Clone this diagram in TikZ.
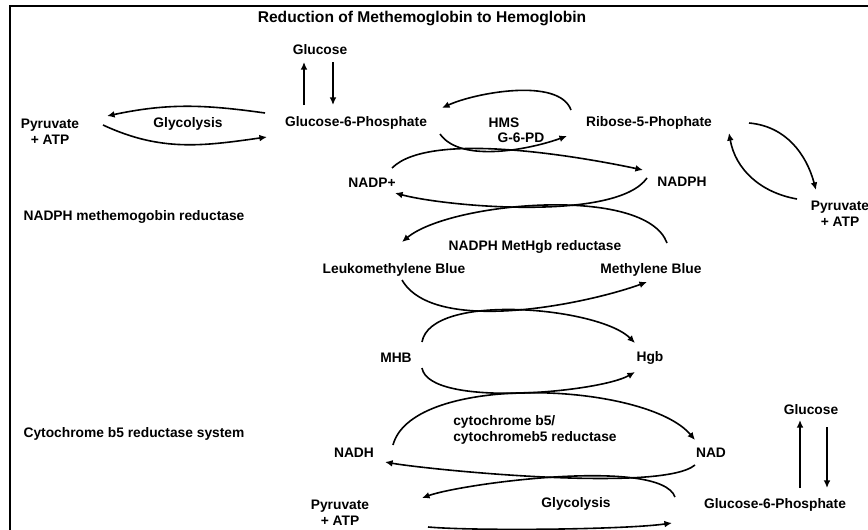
\documentclass[tikz,border=0pt]{standalone}
\usepackage{fontspec}
\setmainfont{Liberation Sans}
\usetikzlibrary{arrows.meta, calc}

\begin{document}
\begin{tikzpicture}[x=0.5pt, y=0.5pt,
  lbl/.style={font=\bfseries\fontsize{6.9}{7.8}\selectfont, inner sep=1pt, align=center},
  arr/.style={line width=0.8pt, -{Latex[length=3.8pt,width=3.4pt]}}]
\useasboundingbox (0,0) rectangle (868,-530);
\draw[line width=1.4pt] (868,-6) -| (10,-530);

\path (422,-18) node[lbl, font=\bfseries\fontsize{7.8}{9}\selectfont] (title) {Reduction of Methemoglobin to Hemoglobin};

\path (320,-50) node[lbl] (glc-top) {Glucose};
\path (356,-123) node[lbl] (g6p-top) {Glucose-6-Phosphate};
\path (50,-132) node[lbl] (pyr-left) {Pyruvate\\+ ATP};
\path (188,-124) node[lbl] (gly-top) {Glycolysis};
\path (504,-123) node[lbl] (hms) {HMS};
\path (521,-138) node[lbl] (g6pd) {G-6-PD};
\path (649,-123) node[lbl] (r5p) {Ribose-5-Phophate};
\path (840,-214) node[lbl] (pyr-right) {Pyruvate\\+ ATP};

\path (372,-183) node[lbl] (nadp-plus) {NADP+};
\path (682,-182) node[lbl] (nadph) {NADPH};
\path (134,-217) node[lbl] (nadph-sys) {NADPH methemogobin reductase};
\path (535,-247) node[lbl] (metred) {NADPH MetHgb reductase};
\path (394,-270) node[lbl] (leuko) {Leukomethylene Blue};
\path (651,-270) node[lbl] (mb) {Methylene Blue};
\path (396,-358) node[lbl] (mhb) {MHB};
\path (650,-358) node[lbl] (hgb) {Hgb};

\path (535,-430) node[lbl, align=left] (cyt) {cytochrome b5/\\cytochromeb5 reductase};
\path (134,-434) node[lbl] (cyt-sys) {Cytochrome b5 reductase system};
\path (354,-453) node[lbl] (nadh) {NADH};
\path (711,-453) node[lbl] (nad) {NAD};
\path (340,-513) node[lbl] (pyr-bot) {Pyruvate\\+ ATP};
\path (576,-504) node[lbl] (gly-bot) {Glycolysis};
\path (775,-505) node[lbl] (g6p-bot) {Glucose-6-Phosphate};
\path (811,-410) node[lbl] (glc-bot) {Glucose};

\draw[arr] ($(g6p-top)+(-52,18)$) -- ($(glc-top)+(-16,-12)$);
\draw[arr] ($(glc-top)+(13,-12)$) -- ($(g6p-top)+(-23,18)$);
\draw[arr] ($(g6p-bot)+(25,17)$) -- ($(glc-bot)+(-11,-10)$);
\draw[arr] ($(glc-bot)+(16,-17)$) -- ($(g6p-bot)+(52,17)$);

\draw[arr] ($(g6p-top)+(-91,10)$) to[out=172,in=12] ($(pyr-left)+(57,16)$);
\draw[arr] ($(pyr-left)+(53,7)$) to[out=-25,in=188] ($(g6p-top)+(-89,-14)$);
\draw[arr] ($(r5p)+(-78,13)$) to[out=110,in=25,looseness=0.7] ($(g6p-top)+(86,15)$);
\draw[arr] ($(g6p-top)+(84,-11)$) to[out=-55,in=200,looseness=0.74] ($(r5p)+(-82,-13)$);
\draw[arr] ($(r5p)+(100,0)$) to[out=-5,in=105] ($(pyr-right)+(-24,24)$);
\draw[arr] ($(pyr-right)+(-43,15)$) to[out=170,in=-80] ($(r5p)+(80,-10)$);

\draw[arr] ($(nadp-plus)+(20,15)$) to[out=45,in=168,looseness=0.56] ($(nadph)+(-39,12)$);
\draw[arr] ($(nadph)+(-35,4)$) to[out=235,in=-15,looseness=0.54] ($(nadp-plus)+(23,-10)$);
\draw[arr] ($(mb)+(16,27)$) to[out=110,in=40,looseness=0.6] ($(leuko)+(8,28)$);
\draw[arr] ($(leuko)+(8,-10)$) to[out=-60,in=200,looseness=0.67] ($(mb)+(-4,-12)$);
\draw[arr] ($(mhb)+(26,16)$) to[out=80,in=135,looseness=0.61] ($(hgb)+(-15,15)$);
\draw[arr] ($(mhb)+(26,-10)$) to[out=-80,in=210,looseness=0.49] ($(hgb)+(-15,-14)$);

\draw[arr] ($(nadh)+(39,8)$) to[out=75,in=130,looseness=0.64] ($(nad)+(-16,13)$);
\draw[arr] ($(nad)+(-16,-12)$) to[out=220,in=-10,looseness=0.36] ($(nadh)+(31,-9)$);
\draw[arr] ($(g6p-bot)+(-100,8)$) to[out=110,in=20,looseness=0.43] ($(pyr-bot)+(82,15)$);
\draw[arr] ($(pyr-bot)+(88,-14)$) to[out=-5,in=188,looseness=0.5] ($(g6p-bot)+(-103,-18)$);
\end{tikzpicture}
\end{document}
